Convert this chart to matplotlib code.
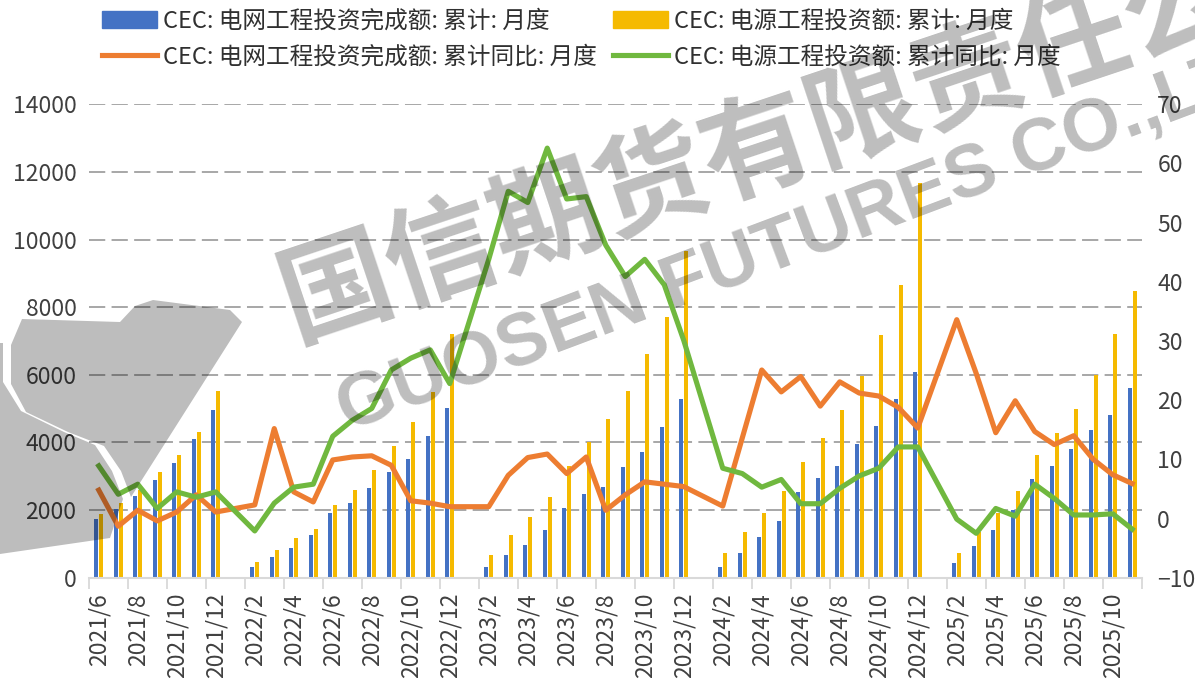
import numpy as np
import pandas as pd
import matplotlib
matplotlib.use("Agg")
import matplotlib.pyplot as plt
from matplotlib.patches import Patch, Polygon
from matplotlib.lines import Line2D

plt.rcParams["font.family"] = ["Noto Sans CJK SC", "DejaVu Sans"]

# Monthly categories, 2021/6 .. 2025/11 (January has no release)
months = [f"{p.year}/{p.month}" for p in pd.period_range("2021-06", "2025-11", freq="M")]

# Cumulative investment (100 million yuan)
grid_cum = [
    1727, 2023, 2416, 2890, 3383, 4093, 4951,
    None, 307, 612, 878, 1263, 1905, 2218, 2662, 3135, 3502, 4191, 5012,
    None, 307, 671, 967, 1411, 2052, 2467, 2692, 3283, 3709, 4448, 5275,
    None, 307, 740, 1213, 1686, 2526, 2940, 3313, 3954, 4487, 5277, 6083,
    None, 444, 947, 1411, 2002, 2911, 3304, 3798, 4369, 4812, 5604,
]
power_cum = [
    1884, 2218, 2594, 3117, 3620, 4309, 5530,
    None, 464, 810, 1165, 1450, 2150, 2585, 3185, 3904, 4596, 5501, 7208,
    None, 671, 1263, 1803, 2396, 3304, 4023, 4685, 5522, 6616, 7702, 9675,
    None, 740, 1352, 1905, 2564, 3422, 4141, 4960, 5965, 7178, 8657, 11687,
    None, 740, 1360, 1905, 2564, 3620, 4290, 4979, 5995, 7208, 8488,
]

# Cumulative year-on-year growth (%)
grid_yoy = [
    4.8, -1.3, 1.4, -0.4, 1.1, 4.0, 1.1,
    None, 2.3, 15.2, 4.5, 2.8, 9.9, 10.4, 10.6, 9.0, 3.0, 2.6, 2.0,
    None, 2.0, 7.3, 10.3, 10.9, 7.6, 10.4, 1.4, 4.0, 6.2, 5.8, 5.4,
    None, 2.1, 13.6, 25.1, 21.4, 24.0, 19.0, 23.1, 21.2, 20.7, 18.8, 15.3,
    None, 33.6, 24.5, 14.5, 19.9, 14.7, 12.5, 14.0, 10.0, 7.4, 5.9,
]
power_yoy = [
    8.9, 4.1, 5.8, 1.7, 4.5, 3.6, 4.5,
    None, -2.1, 2.6, 5.3, 5.8, 13.9, 16.6, 18.6, 25.1, 27.1, 28.5, 22.8,
    None, 43.8, 55.3, 53.4, 62.6, 54.0, 54.4, 46.2, 40.9, 43.8, 39.5, 30.1,
    None, 8.5, 7.6, 5.3, 6.6, 2.5, 2.5, 5.1, 7.2, 8.5, 12.1, 12.1,
    None, -0.1, -2.5, 1.7, 0.4, 5.8, 3.4, 0.6, 0.6, 0.8, -1.8,
]

labels = [
    "CEC: 电网工程投资完成额: 累计: 月度",
    "CEC: 电源工程投资额: 累计: 月度",
    "CEC: 电网工程投资完成额: 累计同比: 月度",
    "CEC: 电源工程投资额: 累计同比: 月度",
]

BLUE = "#4472C4"
GOLD = "#F5BA00"
ORANGE = "#ED7D31"
GREEN = "#70B83F"
TEXT = "#404040"
FS = 16.5

W, H = 1195, 679


def fx(x):
    return x / W


def fy(y):
    return 1 - y / H


def arr(values):
    return np.array([np.nan if v is None else v for v in values], dtype=float)


grid_cum, power_cum = arr(grid_cum), arr(power_cum)
grid_yoy, power_yoy = arr(grid_yoy), arr(power_yoy)
x = np.arange(len(months))

fig = plt.figure(figsize=(W / 100, H / 100), dpi=100)
ax = fig.add_axes([fx(89), fy(577.7), fx(1142 - 89), (577.7 - 104.3) / H])
ax2 = ax.twinx()

# bars on the left axis
ax.bar(x - 0.135, grid_cum, width=0.2, color=BLUE, zorder=2)
ax.bar(x + 0.135, power_cum, width=0.2, color=GOLD, zorder=2)

# growth lines on the right axis, gaps bridged over January
for series, color in [(grid_yoy, ORANGE), (power_yoy, GREEN)]:
    m = ~np.isnan(series)
    ax2.plot(x[m], series[m], color=color, lw=3.7, solid_joinstyle="round")

ax.set_xlim(-0.5, len(months) - 0.5)
ax.set_ylim(0, 14000)
ax.set_yticks(range(0, 14001, 2000))
ax2.set_ylim(-10, 70)
ax2.set_yticks(range(-10, 71, 10))

ax.set_xticks(np.arange(-0.5, len(months), 2))
ax.set_xticklabels([])
ax.set_xticks(x[::2], minor=True)
ax.set_xticklabels(months[::2], minor=True, rotation=90, va="top", ha="center")
ax.tick_params(axis="x", which="major", length=8, width=1.3, color="#d9d9d9")
ax.tick_params(axis="x", which="minor", length=0, pad=11, labelsize=FS, labelcolor=TEXT)
ax.tick_params(axis="y", length=0, pad=9, labelsize=FS, labelcolor=TEXT)
ax2.tick_params(axis="y", length=0, pad=11, labelsize=FS, labelcolor=TEXT)

ax.set_axisbelow(True)
ax.yaxis.grid(True, color="#a0a0a0", lw=1.3, linestyle=(0, (9, 3.5)))
ax.get_ygridlines()[0].set_visible(False)

for s in ["top", "left", "right"]:
    ax.spines[s].set_visible(False)
for s in ax2.spines.values():
    s.set_visible(False)
ax.spines["bottom"].set_color("#d9d9d9")
ax.spines["bottom"].set_linewidth(1.5)

# two legend columns
leg_kw = dict(loc="upper left", frameon=False, fontsize=FS + 0.5, borderpad=0,
              borderaxespad=0, handlelength=2.35, handletextpad=0.25,
              labelspacing=0.54, labelcolor="#303030")
fig.legend([Patch(color=BLUE), Line2D([], [], color=ORANGE, lw=3.7)],
           [labels[0], labels[2]], bbox_to_anchor=(fx(102), fy(10)), **leg_kw)
fig.legend([Patch(color=GOLD), Line2D([], [], color=GREEN, lw=3.7)],
           [labels[1], labels[3]], bbox_to_anchor=(fx(613), fy(10)), **leg_kw)

# watermark
wm = dict(color="black", alpha=0.26, rotation_mode="anchor", ha="left",
          va="baseline", zorder=10)
fig.text(fx(294), fy(338), "国信期货有限责任公司", fontsize=80, rotation=18.5,
         weight="bold", family=["Noto Sans CJK SC"], **wm)
fig.text(fx(347), fy(431), "GUOSEN FUTURES CO.,LTD", fontsize=54, rotation=20.6,
         weight="bold", family=["Liberation Sans"], **wm)

# logo mark in two pieces, split by a thin curved gap
logo_body = [(22, 319), (120, 322), (135, 306), (153, 300), (230, 310), (242, 322),
             (131, 497), (121, 471), (104, 446), (68, 432), (26, 412), (11, 384),
             (11, 345)]
logo_tail = [(0, 343), (3, 343), (3, 382), (21, 411), (64, 432), (95, 445),
             (112, 471), (123, 499), (110, 538), (0, 554)]
for pts in (logo_body, logo_tail):
    fig.add_artist(Polygon([(fx(a), fy(b)) for a, b in pts], closed=True,
                           transform=fig.transFigure, facecolor="black",
                           edgecolor="none", alpha=0.26, zorder=10))

fig.savefig("out.png", dpi=100)
